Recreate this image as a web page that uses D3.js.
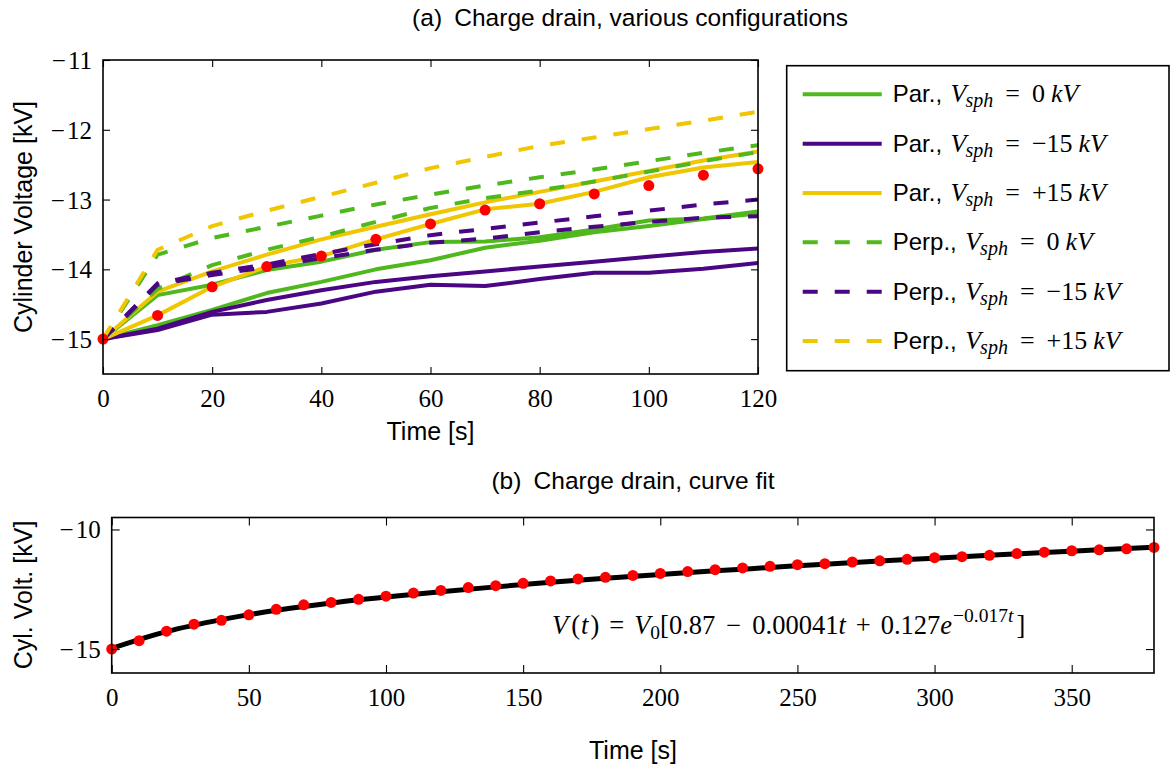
<!DOCTYPE html>
<html><head><meta charset="utf-8">
<script src="https://cdn.jsdelivr.net/npm/d3@7"></script>
<style>body{margin:0;background:#fff} svg{display:block}</style>
</head><body>
<svg id="c" width="1171" height="769"></svg>
<script>
// ---------- data: (a) various configurations ----------
const timeA = [0,10,20,30,40,50,60,70,80,90,100,110,120];
const parGreen1   = [-15,-14.37,-14.22,-14.01,-13.89,-13.72,-13.61,-13.60,-13.54,-13.43,-13.30,-13.27,-13.17];
const parGreen2   = [-15,-14.80,-14.58,-14.34,-14.18,-14.00,-13.87,-13.69,-13.59,-13.47,-13.38,-13.28,-13.20];
const parPurple1  = [-15,-14.85,-14.61,-14.44,-14.30,-14.18,-14.10,-14.03,-13.96,-13.89,-13.82,-13.75,-13.70];
const parPurple2  = [-15,-14.87,-14.65,-14.61,-14.49,-14.32,-14.22,-14.24,-14.14,-14.05,-14.05,-13.99,-13.91];
const parYellow1  = [-15,-14.32,-14.03,-13.79,-13.57,-13.39,-13.21,-13.04,-12.89,-12.74,-12.59,-12.44,-12.31];
const parYellow2  = [-15,-14.66,-14.25,-13.96,-13.81,-13.57,-13.35,-13.14,-13.06,-12.89,-12.68,-12.54,-12.46];
const perpGreen1  = [-15,-13.79,-13.55,-13.39,-13.23,-13.07,-12.93,-12.80,-12.68,-12.57,-12.45,-12.33,-12.22];
const perpGreen2  = [-15,-14.28,-13.94,-13.72,-13.53,-13.32,-13.12,-12.98,-12.87,-12.74,-12.60,-12.45,-12.32];
const perpPurple1 = [-15,-14.20,-14.05,-13.93,-13.78,-13.64,-13.51,-13.42,-13.33,-13.24,-13.16,-13.07,-13.00];
const perpPurple2 = [-15,-14.22,-14.08,-13.97,-13.84,-13.72,-13.62,-13.56,-13.47,-13.39,-13.32,-13.26,-13.24];
const perpYellow  = [-15,-13.72,-13.38,-13.16,-12.96,-12.76,-12.55,-12.39,-12.23,-12.11,-11.99,-11.87,-11.74];
const measuredA   = [-15,-14.66,-14.25,-13.96,-13.81,-13.57,-13.35,-13.15,-13.06,-12.92,-12.80,-12.65,-12.56];
const ticksXA = [0,20,40,60,80,100,120];
const ticksYA = [-15,-14,-13,-12,-11];

// ---------- data: (b) curve fit ----------
const timeB = [0,10,20,30,40,50,60,70,80,90,100,110,120,130,140,150,160,170,180,190,200,210,220,230,240,250,260,270,280,290,300,310,320,330,340,350,360,370,380];
const measuredB = [-15.0,-14.65,-14.25,-13.96,-13.80,-13.57,-13.34,-13.15,-13.05,-12.92,-12.79,-12.66,-12.55,-12.43,-12.35,-12.25,-12.15,-12.07,-12.00,-11.92,-11.84,-11.76,-11.68,-11.61,-11.54,-11.47,-11.43,-11.36,-11.31,-11.25,-11.18,-11.14,-11.08,-11.01,-10.95,-10.89,-10.85,-10.81,-10.75];
const fitTime = [0,20,40,60,80,100,120,140,160,180,200,220,240,260,280,300,320,340,360,380];
const fitV = [-14.97,-14.27,-13.77,-13.38,-13.07,-12.82,-12.60,-12.40,-12.21,-12.04,-11.88,-11.73,-11.59,-11.45,-11.32,-11.20,-11.08,-10.96,-10.85,-10.74];
const ticksXB = [0,50,100,150,200,250,300,350];
const ticksYB = [-15,-10];

const legendPrefix = ["Par.,","Par.,","Par.,","Perp.,","Perp.,","Perp.,"];
const legendValue  = ["0","\u221215","+15","0","\u221215","+15"];

// ---------- styling ----------
const GREEN = "#4fb81d", PURPLE = "#4a0683", YELLOW = "#efc600", RED = "#ff0000";
const SANS = "'Liberation Sans', Arial, Helvetica, sans-serif";
const SERIF = "'Liberation Serif', 'Times New Roman', serif";
const DASH = "15,17";

const series = [
  {v: parGreen1,  c: GREEN,  d: null},
  {v: parGreen2,  c: GREEN,  d: null},
  {v: parPurple1, c: PURPLE, d: null},
  {v: parPurple2, c: PURPLE, d: null},
  {v: parYellow1, c: YELLOW, d: null},
  {v: parYellow2, c: YELLOW, d: null},
  {v: perpGreen1, c: GREEN,  d: DASH},
  {v: perpGreen2, c: GREEN,  d: DASH},
  {v: perpPurple1,c: PURPLE, d: DASH},
  {v: perpPurple2,c: PURPLE, d: DASH},
  {v: perpYellow, c: YELLOW, d: DASH}
];
const legendStyle = [
  {c: GREEN, d: null},{c: PURPLE, d: null},{c: YELLOW, d: null},
  {c: GREEN, d: DASH},{c: PURPLE, d: DASH},{c: YELLOW, d: DASH}
];

const svg = d3.select("#c");
svg.append("rect").attr("width",1171).attr("height",769).attr("fill","#fff");

const tickFmt = d => (d < 0 ? "\u2212\u200a" + Math.abs(d) : String(d));

function frameAxes(g, x, y, xt, yt, tickLen) {
  const [x0,x1] = x.range(), [y0,y1] = y.range();
  const ax = (gen, tx, ty, labels) => {
    const a = g.append("g").attr("transform",`translate(${tx},${ty})`).call(gen);
    a.select(".domain").remove();
    a.selectAll(".tick line").attr("stroke","#000").attr("stroke-width",1.1);
    a.selectAll(".tick text").attr("font-family",SERIF).attr("font-size",25).attr("fill","#000");
    if (!labels) a.selectAll(".tick text").remove();
    return a;
  };
  ax(d3.axisBottom(x).tickValues(xt).tickSize(-tickLen).tickPadding(15).tickFormat(tickFmt), 0, y0, true);
  ax(d3.axisTop(x).tickValues(xt).tickSize(-tickLen).tickFormat(""), 0, y1, false);
  ax(d3.axisLeft(y).tickValues(yt).tickSize(-tickLen).tickPadding(11).tickFormat(tickFmt), x0, 0, true)
    .selectAll(".tick text").attr("dy","0.34em");
  ax(d3.axisRight(y).tickValues(yt).tickSize(-tickLen).tickFormat(""), x1, 0, false);
  g.append("rect").attr("x",x0).attr("y",y1).attr("width",x1-x0).attr("height",y0-y1)
    .attr("fill","none").attr("stroke","#000").attr("stroke-width",1.6);
}

// ================= (a) =================
const xA = d3.scaleLinear().domain([0,120]).range([103,758]);
const yA = d3.scaleLinear().domain([-15.5,-11]).range([374,60]);
const gA = svg.append("g");
svg.append("defs").append("clipPath").attr("id","clipA").append("rect")
  .attr("x",103).attr("y",60).attr("width",655).attr("height",314);

const lineA = d3.line().x((d,i)=>xA(timeA[i])).y(d=>yA(d));
const plotA = gA.append("g").attr("clip-path","url(#clipA)");
series.forEach(s => {
  plotA.append("path").attr("d", lineA(s.v)).attr("fill","none")
    .attr("stroke", s.c).attr("stroke-width",4).attr("stroke-linejoin","round")
    .attr("stroke-dasharray", s.d);
});
gA.selectAll("circle.ma").data(measuredA).join("circle").attr("class","ma")
  .attr("cx",(d,i)=>xA(timeA[i])).attr("cy",d=>yA(d)).attr("r",5.5).attr("fill",RED);
frameAxes(gA, xA, yA, ticksXA, ticksYA, 7);

svg.append("text").attr("x",630).attr("y",26).attr("text-anchor","middle")
  .attr("font-family",SANS).attr("font-size",24.5)
  .text("(a)\u2002Charge drain, various configurations");
svg.append("text").attr("x",430.5).attr("y",440).attr("text-anchor","middle")
  .attr("font-family",SANS).attr("font-size",25).text("Time [s]");
svg.append("text").attr("transform","translate(32,217) rotate(-90)").attr("text-anchor","middle")
  .attr("font-family",SANS).attr("font-size",25).text("Cylinder Voltage [kV]");

// legend
const lg = svg.append("g");
lg.append("rect").attr("x",786.7).attr("y",65.7).attr("width",382.3).attr("height",305)
  .attr("fill","#fff").attr("stroke","#000").attr("stroke-width",1.6);
const rowY = d3.scaleLinear().domain([0,5]).range([94.3,341]);
legendStyle.forEach((s,i) => {
  const yy = rowY(i);
  lg.append("line").attr("x1",802.7).attr("x2",881.7).attr("y1",yy).attr("y2",yy)
    .attr("stroke",s.c).attr("stroke-width",4).attr("stroke-dasharray",s.d);
  const t = lg.append("text").attr("x",892.7).attr("y",yy+8).attr("fill","#000");
  t.append("tspan").attr("font-family",SANS).attr("font-size",24).text(legendPrefix[i]);
  t.append("tspan").attr("font-family",SERIF).attr("font-size",26).attr("font-style","italic").attr("dx",8.5).text("V");
  t.append("tspan").attr("font-family",SERIF).attr("font-size",20).attr("font-style","italic").attr("dx",-1).attr("dy",5).text("sph");
  t.append("tspan").attr("font-family",SERIF).attr("font-size",26).attr("dx",12).attr("dy",-5).text("=");
  t.append("tspan").attr("font-family",SERIF).attr("font-size",26).attr("dx",12).text(legendValue[i]);
  t.append("tspan").attr("font-family",SERIF).attr("font-size",26).attr("font-style","italic").attr("dx",6).text("kV");
});

// ================= (b) =================
const xB = d3.scaleLinear().domain([0,380]).range([111.7,1154]);
const yB = d3.scaleLinear().domain([-16,-9.5]).range([673,517.5]);
const gB = svg.append("g");
const lineB = d3.line().x((d,i)=>xB(fitTime[i])).y(d=>yB(d)).curve(d3.curveMonotoneX);
gB.append("path").attr("d", lineB(fitV)).attr("fill","none").attr("stroke","#000")
  .attr("stroke-width",5).attr("stroke-linejoin","round");
gB.selectAll("circle.mb").data(measuredB).join("circle").attr("class","mb")
  .attr("cx",(d,i)=>xB(timeB[i])).attr("cy",d=>yB(d)).attr("r",5.5).attr("fill",RED);
frameAxes(gB, xB, yB, ticksXB, ticksYB, 8);

svg.append("text").attr("x",633).attr("y",489).attr("text-anchor","middle")
  .attr("font-family",SANS).attr("font-size",24.5)
  .text("(b)\u2002Charge drain, curve fit");
svg.append("text").attr("x",633).attr("y",759).attr("text-anchor","middle")
  .attr("font-family",SANS).attr("font-size",25).text("Time [s]");
svg.append("text").attr("transform","translate(32,595) rotate(-90)").attr("text-anchor","middle")
  .attr("font-family",SANS).attr("font-size",25).text("Cyl. Volt. [kV]");

// equation
const eq = svg.append("text").attr("x",552).attr("y",634).attr("font-family",SERIF)
  .attr("font-size",26.5).attr("fill","#000");
const eqParts = [
  ["V",{it:1}],["(",{dx:3}],["t",{it:1,dx:1}],[")",{dx:2}],["=",{dx:10}],
  ["V",{it:1,dx:10}],["0",{sub:1}],["[0.87",{}],["\u2212",{dx:11}],["0.00041",{dx:11}],
  ["t",{it:1}],["+",{dx:10}],["0.127",{dx:10}],["e",{it:1}],["\u22120.017",{sup:1,dx:1}],
  ["t",{it:1,sup:1}],["]",{dx:3}]
];
let cur = 0;
eqParts.forEach(([txt,o]) => {
  const target = o.sub ? 5 : (o.sup ? -12 : 0);
  const ts = eq.append("tspan").text(txt).attr("dy", target-cur);
  cur = target;
  if (o.it) ts.attr("font-style","italic");
  if (o.dx) ts.attr("dx",o.dx);
  if (o.sub || o.sup) ts.attr("font-size",19.5);
});
</script>
</body></html>
